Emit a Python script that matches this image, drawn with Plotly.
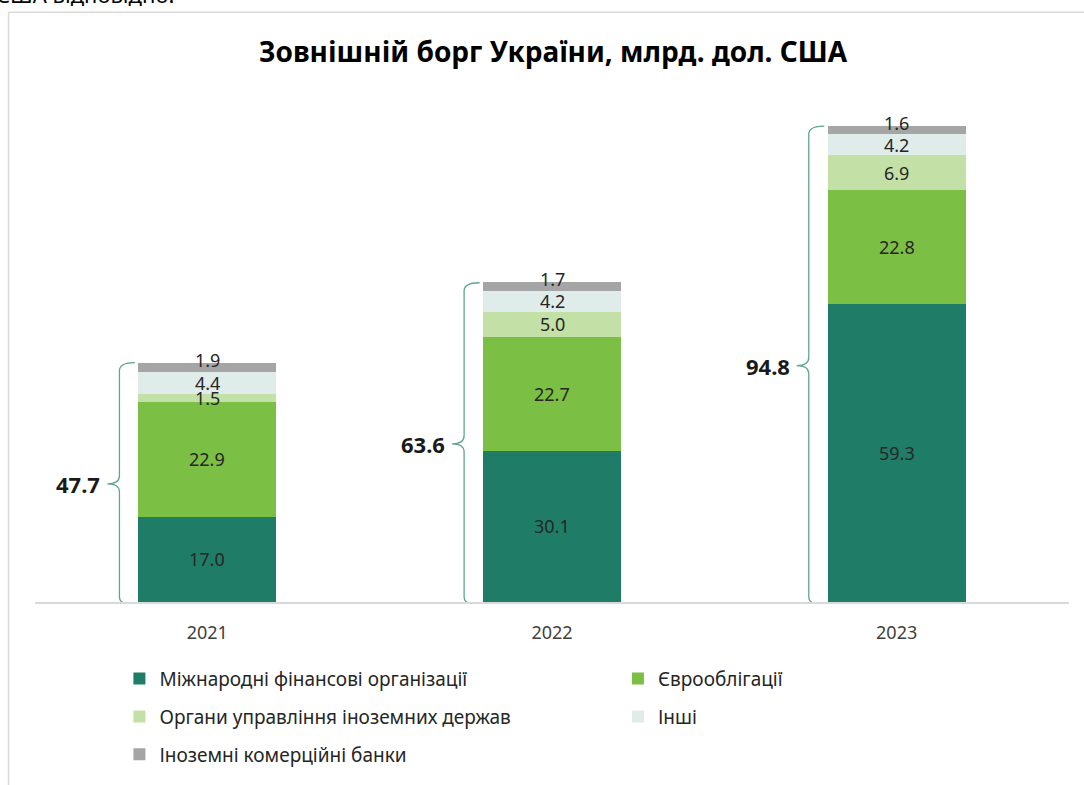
import plotly.graph_objects as go

years = ["2021", "2022", "2023"]
series_names = [
    "Міжнародні фінансові організації",
    "Єврооблігації",
    "Органи управління іноземних держав",
    "Інші",
    "Іноземні комерційні банки",
]
ifo = [17.0, 30.1, 59.3]
eurobonds = [22.9, 22.7, 22.8]
foreign_gov = [1.5, 5.0, 6.9]
other = [4.4, 4.2, 4.2]
banks = [1.9, 1.7, 1.6]
totals = [47.7, 63.6, 94.8]

series_values = [ifo, eurobonds, foreign_gov, other, banks]
colors = ["#1f7d67", "#7bbf44", "#c3e1a7", "#dfece9", "#a5a5a5"]
legend_ids = ["legend", "legend2", "legend3", "legend4", "legend5"]

FONT = "Noto Sans"
xpos = list(range(len(years)))

fig = go.Figure()
for name, vals, col, lg in zip(series_names, series_values, colors, legend_ids):
    fig.add_trace(go.Bar(
        x=xpos, y=vals, name=name, marker=dict(color=col, line=dict(width=0)),
        width=0.4, legend=lg, hoverinfo="skip",
    ))

annotations = []
# segment labels
for i in range(len(years)):
    base = 0.0
    for k, vals in enumerate(series_values):
        v = vals[i]
        annotations.append(dict(
            x=xpos[i], y=base + v / 2, xref="x", yref="y", text=f"{v:.1f}",
            showarrow=False, font=dict(family=FONT, size=18, color="#262626"),
            yshift=7 if k == len(series_values) - 1 else 0,
        ))
        base += v

# totals with braces
shapes = []
brace_color = "#5fa68c"
r = 1.6
for i, t in enumerate(totals):
    c = xpos[i]
    tip, spine, pt = c - 0.21, c - 0.255, c - 0.29
    top, bot = t, -0.6
    mid = (top + bot) / 2
    path = (f"M {tip},{top} Q {spine},{top} {spine},{top - r} "
            f"L {spine},{mid + r} Q {spine},{mid} {pt},{mid} "
            f"Q {spine},{mid} {spine},{mid - r} "
            f"L {spine},{bot + r} Q {spine},{bot} {tip},{bot}")
    shapes.append(dict(type="path", path=path, xref="x", yref="y",
                       line=dict(color=brace_color, width=1.3)))
    annotations.append(dict(
        x=c - 0.305, y=mid, xref="x", yref="y", text=f"<b>{t:.1f}</b>",
        showarrow=False, xanchor="right",
        font=dict(family=FONT, size=22, color="#1a1a1a"),
    ))

# frame lines (outer chart border)
L, R, T, B = 34.5, 14.5, 100, 181
W, H = 1084, 785
pw, ph = W - L - R, H - T - B
def px_x(p):
    return (p - L) / pw
def px_y(p):
    return (H - B - p) / ph

shapes.append(dict(type="line", xref="paper", yref="paper",
                   x0=px_x(8), x1=px_x(8), y0=px_y(12), y1=px_y(790),
                   line=dict(color="#d9d9d9", width=1.5)))
shapes.append(dict(type="line", xref="paper", yref="paper",
                   x0=px_x(8), x1=px_x(1090), y0=px_y(12), y1=px_y(12),
                   line=dict(color="#d9d9d9", width=1.5)))

# cut-off text from the surrounding page
annotations.append(dict(
    x=px_x(176), y=px_y(11), xref="paper", yref="paper", xanchor="right",
    yanchor="bottom", text="США відповідно.", showarrow=False,
    font=dict(family=FONT, size=22, color="#000000"),
))

leg_common = dict(orientation="v", xanchor="left", yanchor="middle",
                  font=dict(family=FONT, size=19, color="#262626"),
                  bgcolor="rgba(0,0,0,0)", borderwidth=0)
leg_pos = [(119, 681), (618, 681), (119, 719), (618, 719), (119, 757)]
legends = {}
for lg, (lx, ly) in zip(legend_ids, leg_pos):
    legends[lg] = dict(x=px_x(lx), y=px_y(ly), **leg_common)

fig.update_layout(
    width=W, height=H,
    margin=dict(l=L, r=R, t=T, b=B, pad=0),
    paper_bgcolor="white", plot_bgcolor="white",
    barmode="stack",
    title=dict(text="<b>Зовнішній борг України, млрд. дол. США</b>",
               x=553 / W, xref="container", xanchor="center",
               y=1 - 52 / H, yref="container", yanchor="middle",
               font=dict(family=FONT, size=28, color="#000000")),
    xaxis=dict(range=[-0.5, 2.5], tickvals=xpos, ticktext=years,
               showgrid=False, zeroline=False, showline=True,
               linecolor="#d9d9d9", linewidth=1.5,
               ticks="outside", ticklen=14, tickcolor="rgba(0,0,0,0)",
               tickfont=dict(family=FONT, size=18, color="#404040")),
    yaxis=dict(range=[0, 100], visible=False, showgrid=False, zeroline=False),
    shapes=shapes,
    annotations=annotations,
    showlegend=True,
    **legends,
)

fig.write_html("out.html")
